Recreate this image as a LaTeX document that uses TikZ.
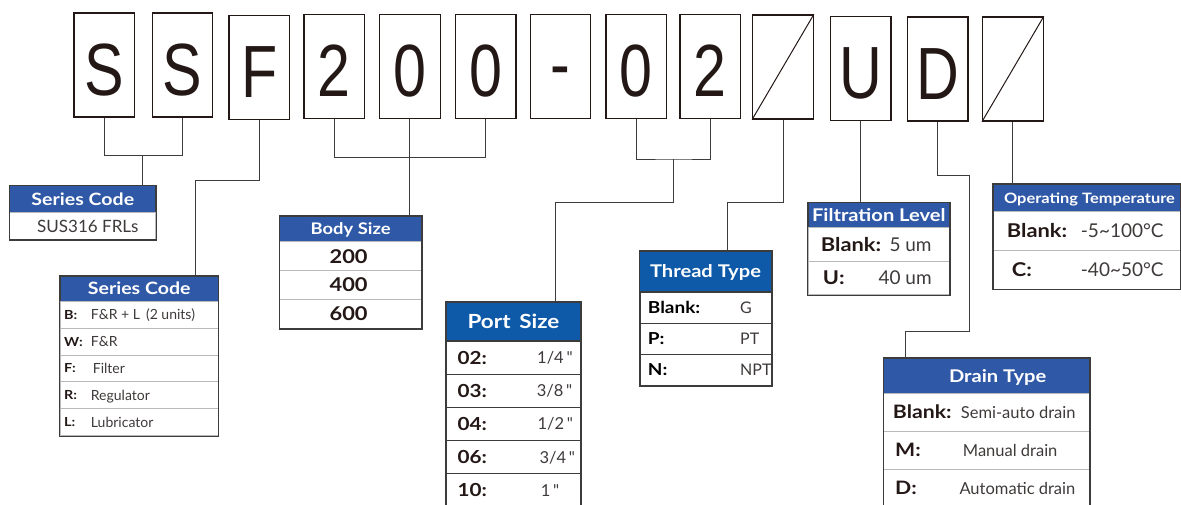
\documentclass[tikz,border=0pt]{standalone}
\usepackage{fontspec}
\setmainfont{Lato}[BoldFeatures={FakeStretch=1.15}]
\newfontfamily\bigfont[FakeStretch=0.8]{Liberation Sans}
\usetikzlibrary{positioning}
\definecolor{hdrblue}{RGB}{47,88,166}
\definecolor{portblue}{RGB}{14,90,168}
\definecolor{ink}{RGB}{35,24,21}
\definecolor{txtgray}{RGB}{62,58,57}
\definecolor{rulegray}{RGB}{185,185,185}
\definecolor{edge}{RGB}{60,60,60}
\newcommand\fsz[1]{\fontsize{#1}{#1}\selectfont}
\tikzset{
  letterbox/.style={draw=ink, line width=1.3pt, minimum width=60.5pt, minimum height=104pt, inner sep=0pt},
  letter/.style={font=\bigfont\fsz{74}, text=ink, inner sep=0pt, text height={0.69*74pt}, text depth=0pt},
  hdr/.style n args={4}{draw=edge, fill=#4, text=white, line width=1pt, anchor=north west, inner sep=0pt,
    minimum width=#1, minimum height=#2, font=\bfseries\fsz{#3}, text height={0.72*#3pt}, text depth=0pt},
  row/.style 2 args={draw=rulegray, line width=1pt, anchor=north west, inner sep=0pt, minimum width=#1, minimum height=#2},
  lbl/.style={font=\bfseries\fsz{#1}, text=ink, inner sep=0pt, text height={0.72*#1pt}, text depth=0pt},
  val/.style={font=\fsz{#1}, text=txtgray, inner sep=0pt, text height={0.72*#1pt}, text depth=0pt},
  frame/.style={draw=edge, line width=1.3pt},
  link/.style={draw=edge, line width=1pt}
}
\begin{document}
\begin{tikzpicture}[x=1pt, y=-1pt]
\useasboundingbox (0,0) rectangle (1181,504);
% code letters
\foreach \n/\x/\y/\c/\s in {b1/104.1/65/S/-4.5, b2/182.4/65/S/-4.5, b3/259.1/67.4/F/-4.5,
  b4/334.3/66.5/2/-4.5, b5/409.9/66.5/0/-4.5, b6/485.7/66.5/0/-4.5, b7/560.5/66.5/-/2.5,
  b8/636.2/66.7/0/-4.5, b9/710.3/66.7/2/-4.5, b11/860.8/68.2/U/-4.5, b12/937.8/69/D/-4.5}{
  \node[letterbox] (\n) at (\x,\y) {};
  \node[letter] (\n t) at ([yshift=\s pt]\n.center) {\c};
}
\node[letterbox] (b10) at (783,66.9) {};
\node[letterbox] (b13) at (1012.9,69) {};
\draw[line width=1pt, ink] (b10.south west) -- (b10.north east);
\draw[line width=1pt, ink] (b13.south west) -- (b13.north east);

% series code
\node[hdr={146pt}{27pt}{17}{hdrblue}] (sc1h) at (9.3,185.3) {Series Code};
\node[row={146pt}{26.7pt}] (sc1r) at (9.3,212.3) {};
\node[val=17] (sc1v) at ([xshift=5pt]sc1r.center) {SUS316 FRLs};
\draw[frame] (sc1h.north west) rectangle (sc1r.south east);

% series code, units
\node[hdr={158pt}{24.7pt}{17}{hdrblue}] (sc2h) at (59.7,276) {Series Code};
\foreach \i/\l/\v/\d [evaluate=\i as \y using 300.7+(\i-1)*26.9] in
  {1/B:/{F\&R + L\hspace{6pt}(2 units)}/31pt, 2/W:/{F\&R}/31pt, 3/F:/Filter/33pt,
   4/R:/Regulator/31pt, 5/L:/Lubricator/31pt}{
  \node[row={158pt}{26.9pt}] (sc2r\i) at (59.7,\y) {};
  \node[lbl=12.5, right=4.3pt of sc2r\i.west] (sc2l\i) {\l};
  \node[val=14, right=\d of sc2r\i.west] (sc2v\i) {\v};
}
\draw[frame] (sc2h.north west) rectangle (sc2r5.south east);

% body size
\node[hdr={141.7pt}{25.3pt}{16}{hdrblue}] (bsh) at (279.3,216) {Body Size};
\foreach \i/\v [evaluate=\i as \y using 241.3+(\i-1)*28.9] in {1/200, 2/400, 3/600}{
  \node[row={141.7pt}{28.9pt}] (bsr\i) at (279.3,\y) {};
  \node[lbl=19] (bsv\i) at ([xshift=-2pt]bsr\i.center) {\v};
}
\draw[frame] (bsh.north west) rectangle (bsr3.south east);

% port size
\node[hdr={134.6pt}{38.6pt}{19.5}{portblue}] (psh) at (445.7,301.7) {Port\hspace{0.45em}Size};
\foreach \i/\l/\v/\d [evaluate=\i as \y using 340.3+(\i-1)*33.2] in
  {1/02:/{1/4}/91.3pt, 2/03:/{3/8}/91pt, 3/04:/{1/2}/91.6pt, 4/06:/{3/4}/93.6pt, 5/10:/{1}/95pt}{
  \node[row={134.6pt}{33.2pt}, draw=edge, line width=1.3pt] (psr\i) at (445.7,\y) {};
  \node[lbl=18, right=11.6pt of psr\i.west] (psl\i) {\l};
  \node[val=16.5, right=\d of psr\i.west] (psv\i) {\v\,\textquotedbl};
}
\draw[frame] (psh.north west) rectangle (psr5.south east);

% thread type
\node[hdr={131.4pt}{40.3pt}{17.5}{portblue}] (tth) at (639.3,251) {Thread Type};
\foreach \i/\l/\v [evaluate=\i as \y using 291.3+(\i-1)*31.2] in {1/Blank:/G, 2/P:/PT, 3/N:/NPT}{
  \node[row={131.4pt}{31.2pt}, draw=edge, line width=1.3pt] (ttr\i) at (639.3,\y) {};
  \node[lbl=16.5, text=black, right=8.4pt of ttr\i.west] (ttl\i) {\l};
  \node[val=16, right=100.7pt of ttr\i.west] (ttv\i) {\v};
}
\draw[frame] (tth.north west) rectangle (ttr3.south east);

% filtration level
\node[hdr={141.3pt}{24.7pt}{17.5}{hdrblue}] (flh) at (807.7,202.3) {Filtration Level};
\foreach \i/\l/\v/\p/\d [evaluate=\i as \y using 227+(\i-1)*33.65] in
  {1/Blank:/{5 um}/13pt/81.6pt, 2/U:/{40 um}/15pt/70.6pt}{
  \node[row={141.3pt}{33.65pt}] (flr\i) at (807.7,\y) {};
  \node[lbl=19, right=\p of flr\i.west] (fll\i) {\l};
  \node[val=19, right=\d of flr\i.west] (flv\i) {\v};
}
\draw[frame] (flh.north west) rectangle (flr2.south east);

% operating temperature
\node[hdr={187pt}{27.3pt}{14.3}{hdrblue}] (oth) at (993,183.7) {\hspace{5pt}Operating Temperature};
\foreach \i/\l/\v/\p [evaluate=\i as \y using 211+(\i-1)*38.85] in
  {1/Blank:/{-5\textasciitilde 100°C}/13.7pt, 2/C:/{-40\textasciitilde 50°C}/18.7pt}{
  \node[row={187pt}{38.85pt}] (otr\i) at (993,\y) {};
  \node[lbl=19, right=\p of otr\i.west] (otl\i) {\l};
  \node[val=19, right=87.7pt of otr\i.west] (otv\i) {\v};
}
\draw[frame] (oth.north west) rectangle (otr2.south east);

% drain type
\node[hdr={205.7pt}{35pt}{17.5}{hdrblue}] (dth) at (883.3,357.7) {\hspace{22pt}Drain Type};
\foreach \i/\l/\v/\p/\d [evaluate=\i as \y using 392.7+(\i-1)*38] in
  {1/Blank:/{Semi-auto drain}/9.4pt/77.4pt, 2/M:/{Manual drain}/11.7pt/79.4pt,
   3/D:/{Automatic drain}/11.7pt/76pt}{
  \node[row={205.7pt}{38pt}] (dtr\i) at (883.3,\y) {};
  \node[lbl=18.5, right=\p of dtr\i.west] (dtl\i) {\l};
  \node[val=16.5, right=\d of dtr\i.west] (dtv\i) {\v};
}
\draw[frame] (dth.north west) rectangle (dtr3.south east);

% connectors
\coordinate (j1) at (142.7,155.4);
\coordinate (k3) at (195.3,180);
\coordinate (j2) at (412.5,157.7);
\coordinate (j3) at (673.9,159);
\coordinate (k4) at (555,202);
\coordinate (k5) at (727,202.3);
\coordinate (k6) at (969.8,175);
\coordinate (k7) at (905.3,331.3);
\draw[link] (b1.south) |- (j1) -| (b2.south);
\draw[link] (j1) -- (j1 |- sc1h.north);
\draw[link] (b3.south) |- (k3) -- (k3 |- sc2h.north);
\draw[link] (b4.south) |- (j2) -| (b6.south);
\draw[link] (b5.south) -- (b5.south |- bsh.north);
\draw[link] (b8.south) |- (j3) -| (b9.south);
\draw[link] (j3) |- (k4) -- (k4 |- psh.north);
\draw[link] (b10.south) |- (k5) -- (k5 |- tth.north);
\draw[link] (b11.south) -- (b11.south |- flh.north);
\draw[link] (b12.south) |- (k6) |- (k7) -- (k7 |- dth.north);
\draw[link] (b13.south) -- (b13.south |- oth.north);
\end{tikzpicture}
\end{document}
